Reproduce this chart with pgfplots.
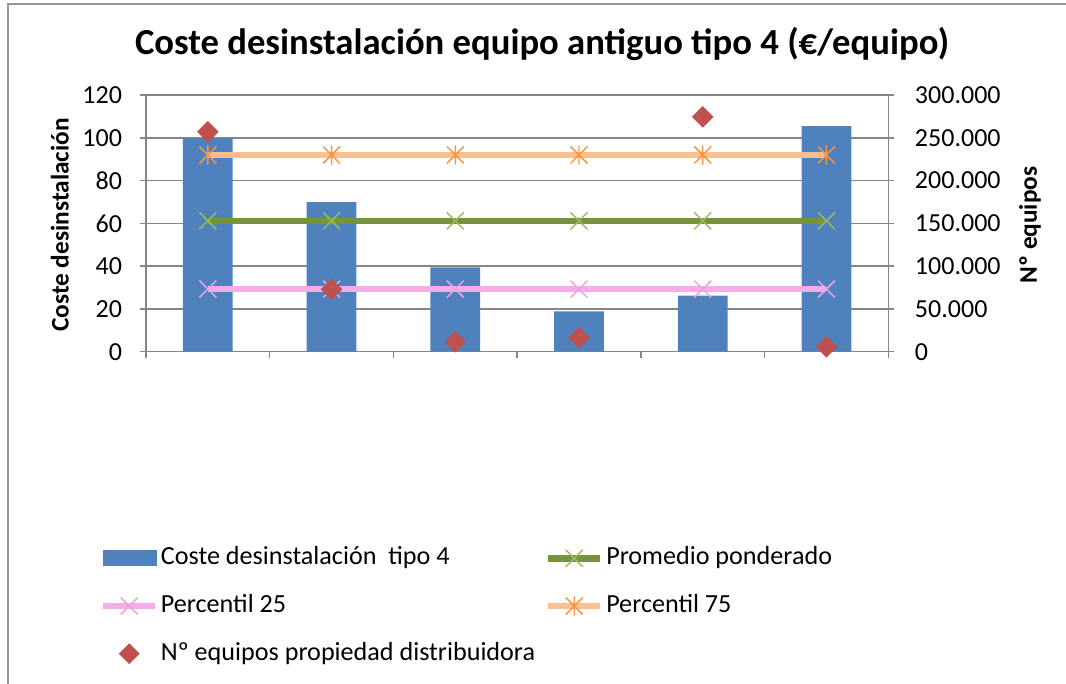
\documentclass[border=0pt]{standalone}
\usepackage{fontspec}
\setmainfont{Carlito}
\usepackage{pgfplots}
\pgfplotsset{compat=1.18}

\definecolor{barblue}{RGB}{79,129,189}
\definecolor{diamred}{RGB}{192,80,77}
\definecolor{olive}{RGB}{119,147,60}
\definecolor{olivemark}{RGB}{155,187,89}
\definecolor{pinkline}{RGB}{245,172,232}
\definecolor{pinkmark}{RGB}{240,160,228}
\definecolor{peach}{RGB}{250,192,144}
\definecolor{orangemark}{RGB}{247,150,70}
\definecolor{gridgray}{RGB}{134,134,134}
\definecolor{framegray}{RGB}{150,150,150}

% Excel-style star marker: an x with a vertical stroke
\pgfdeclareplotmark{xstar}{%
  \pgfpathmoveto{\pgfqpoint{-.7071\pgfplotmarksize}{-.7071\pgfplotmarksize}}%
  \pgfpathlineto{\pgfqpoint{.7071\pgfplotmarksize}{.7071\pgfplotmarksize}}%
  \pgfpathmoveto{\pgfqpoint{-.7071\pgfplotmarksize}{.7071\pgfplotmarksize}}%
  \pgfpathlineto{\pgfqpoint{.7071\pgfplotmarksize}{-.7071\pgfplotmarksize}}%
  \pgfpathmoveto{\pgfqpoint{0pt}{-.8\pgfplotmarksize}}%
  \pgfpathlineto{\pgfqpoint{0pt}{.8\pgfplotmarksize}}%
  \pgfusepathqstroke}

\newcommand{\tickfont}{\fontsize{19.5}{22}\selectfont}
\newcommand{\legfont}{\fontsize{19.6}{22}\selectfont}
\newcommand{\labfont}{\fontsize{19}{22}\selectfont\bfseries}

\pgfplotsset{
  linelegend/.style={legend image code/.code={%
    \draw[mark repeat=2,mark phase=2,##1] plot coordinates {(0pt,0pt)(19.5pt,0pt)(39pt,0pt)};}},
  base/.style={
    at={(109.5pt,-263.8pt)}, anchor=south west,
    scale only axis, width=556.7pt, height=192.5pt,
    xmin=0.5, xmax=6.5,
    tick align=outside, major tick length=4.5pt,
    axis line style={gridgray, line width=1.1pt},
    tick style={gridgray, line width=1.1pt},
    ticklabel style={font=\tickfont},
    /pgf/number format/assume math mode=true,
    clip=false,
  },
}

\begin{document}
\begin{tikzpicture}
\path[use as bounding box] (0pt,0pt) rectangle (799.5pt,-513pt);
\draw[framegray, line width=1.3pt] (6pt,-513pt) -- (6pt,-3pt) -- (799.5pt,-3pt);
\node[font=\fontsize{27.5}{32}\selectfont\bfseries] at (406.5pt,-33pt)
  {Coste desinstalación equipo antiguo tipo 4 (€/equipo)};

\begin{axis}[base,
  ymin=0, ymax=120, ytick={0,20,...,120},
  axis x line*=bottom, axis y line*=left,
  xtick={0.5,1.5,...,6.5}, xticklabels={},
  yticklabel style={xshift=-10pt},
  ymajorgrids, grid style={gridgray, line width=1.1pt},
  ylabel={Coste desinstalación},
  ylabel style={font=\labfont, at={(rel axis cs:-0.116,0.494)}, anchor=center, rotate=0},
  legend columns=2,
  legend style={at={(rel axis cs:-0.062,-0.757)}, anchor=north west,
    draw=none, fill=none, inner sep=0pt, font=\legfont,
    row sep=17.75pt, column sep=0pt,
    nodes={inner sep=0pt, text height=14pt, text depth=4pt},
    /tikz/every odd column/.append style={column sep=2pt}},
  legend cell align=left,
]
\addplot[ybar, bar width=37.3pt, fill=barblue, draw=none,
  legend image code/.code={\fill[barblue] (0pt,-6pt) rectangle (40pt,6pt);}]
  coordinates {(1,100) (2,70) (3,39.5) (4,18.9) (5,26.2) (6,105.5)};
\addlegendentry{\makebox[288pt][l]{Coste desinstalación\ \ tipo 4}}

\addplot[olive, line width=5pt, mark=x, mark size=9pt,
  mark options={olivemark, line width=1.1pt}, linelegend]
  coordinates {(1,61.2) (2,61.2) (3,61.2) (4,61.2) (5,61.2) (6,61.2)};
\addlegendentry{Promedio ponderado}

\addplot[pinkline, line width=4.5pt, mark=x, mark size=9pt,
  mark options={pinkmark, line width=1.1pt}, linelegend]
  coordinates {(1,29.3) (2,29.3) (3,29.3) (4,29.3) (5,29.3) (6,29.3)};
\addlegendentry{\makebox[288pt][l]{Percentil 25}}

\addplot[peach, line width=4.5pt, mark=xstar, mark size=9pt,
  mark options={orangemark, line width=1.1pt}, linelegend]
  coordinates {(1,92) (2,92) (3,92) (4,92) (5,92) (6,92)};
\addlegendentry{Percentil 75}

\addlegendimage{only marks, mark=square*, mark size=5.3pt,
  mark options={rotate=45, fill=diamred, draw=diamred}, linelegend}
\addlegendentry{\makebox[288pt][l]{Nº equipos propiedad distribuidora}}
\end{axis}

\begin{axis}[base,
  ymin=0, ymax=300000, ytick={0,50000,...,300000},
  axis x line=none, axis y line*=right,
  scaled y ticks=false,
  yticklabel style={xshift=12pt, /pgf/number format/.cd, fixed, 1000 sep={.}},
  ylabel={Nº equipos},
  ylabel style={font=\labfont, at={(rel axis cs:1.191,0.494)}, anchor=center, rotate=0},
]
\addplot[only marks, mark=square*, mark size=5.5pt,
  mark options={rotate=45, fill=diamred, draw=diamred}]
  coordinates {(1,257100) (2,72900) (3,11700) (4,16400) (5,274600) (6,5800)};
\end{axis}
\end{tikzpicture}
\end{document}
